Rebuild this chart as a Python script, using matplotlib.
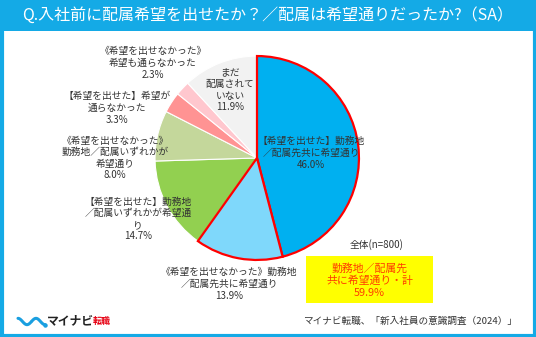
import matplotlib
matplotlib.use("Agg")
import matplotlib.pyplot as plt
from matplotlib.patches import Rectangle
import numpy as np

plt.rcParams['font.family'] = ['Noto Sans CJK JP', 'DejaVu Sans']

title = "Q.入社前に配属希望を出せたか？／配属は希望通りだったか?（SA）"
categories = [
    "【希望を出せた】勤務地\n／配属先共に希望通り",
    "《希望を出せなかった》勤務地\n／配属先共に希望通り",
    "【希望を出せた】勤務地\n／配属いずれかが希望通\nり",
    "《希望を出せなかった》\n勤務地／配属いずれかが\n希望通り",
    "【希望を出せた】希望が\n通らなかった",
    "《希望を出せなかった》\n希望も通らなかった",
    "まだ\n配属されて\nいない",
]
values = [46.0, 13.9, 14.7, 8.0, 3.3, 2.3, 11.9]
colors = ["#00b0f0", "#7fd8fb", "#92d050", "#c4d79b", "#ff9393", "#ffc7ce", "#f2f2f2"]
highlight = [True, True, False, False, False, False, False]
sample_label = "全体(n=800)"
summary_label = "勤務地／配属先\n共に希望通り・計"
source = "マイナビ転職、「新入社員の意識調査（2024）」"

W, H = 536, 337
fig = plt.figure(figsize=(W / 100, H / 100), dpi=100)
fig.patch.set_facecolor("white")

# pie axes: center (257,158), radius 104 px
cx, cy, r = 257, 158, 104
pax = fig.add_axes([(cx - r) / W, (H - cy - r) / H, 2 * r / W, 2 * r / H])
wedges, _ = pax.pie(values, colors=colors, startangle=90, counterclock=False,
                    wedgeprops=dict(edgecolor="white", linewidth=0.8))
for w, hl in zip(wedges, highlight):
    if hl:
        w.set_edgecolor("#ff0000")
        w.set_linewidth(1.6)
        w.set_zorder(3)
pax.set_xlim(-1.02, 1.02)
pax.set_ylim(-1.02, 1.02)
pax.set_aspect("equal")
pax.axis("off")

# overlay axes in pixel coordinates (origin top-left), drawn above the pie
ov = fig.add_axes([0, 0, 1, 1])
ov.set_zorder(10)
ov.patch.set_alpha(0)
ov.set_xlim(0, W)
ov.set_ylim(H, 0)
ov.axis("off")

frame_blue = "#14aae6"
# outer frame and title bar
ov.add_patch(Rectangle((1.5, 1.5), W - 3, H - 3, fill=False, edgecolor=frame_blue, lw=3, zorder=1))
ov.add_patch(Rectangle((0, 0), W, 31, facecolor=frame_blue, edgecolor="none", zorder=1))
ov.text(W / 2, 15.5, title, color="white", fontsize=11.5, ha="center", va="center", zorder=5)

# slice labels (pixel positions)
label_pos = [(311, 153), (229, 284), (138, 219), (115, 158), (117, 108), (153, 63), (230, 90)]
for cat, val, (x, y) in zip(categories, values, label_pos):
    ov.text(x, y, f"{cat}\n{val:.1f}%", fontsize=7, ha="center", va="center",
            color="#333333", linespacing=1.2, zorder=6)

# total box
total = sum(v for v, hl in zip(values, highlight) if hl)
ov.text(377, 245, sample_label, fontsize=7, ha="center", va="center", color="#333333", zorder=6)
ov.add_patch(Rectangle((306, 256), 127, 47, facecolor="#ffff00", edgecolor="none", zorder=4))
ov.text(369.5, 280.5, f"{summary_label}\n{total:.1f}%", fontsize=7.8, ha="center", va="center",
        color="#ff3c00", linespacing=1.25, zorder=6)

# source
ov.text(410, 321, source, fontsize=6.9, ha="center", va="center", color="#333333", zorder=6)

# brand mark
t = np.linspace(0, 1, 60)
wx = 18 + 27 * t
wy = 321 - 3.5 * np.sin(2 * np.pi * 1.5 * t + np.pi / 2) * 0.9
ov.plot(wx[:30], wy[:30] + 0.5, color="#1a9fe0", lw=2.2, solid_capstyle="round", zorder=6)
ov.plot(wx[30:], wy[30:] + 0.5, color="#1a9fe0", lw=2.2, solid_capstyle="round", zorder=6)
ov.plot([44.5], [324.5], marker="o", ms=2.2, color="#1a9fe0", zorder=6)
ov.text(47, 320.5, "マイナビ", fontsize=8.5, fontweight="bold", ha="left", va="center", color="#222222", zorder=6)
ov.text(93, 321.5, "転職", fontsize=6.5, fontweight="bold", ha="left", va="center", color="#e60012", zorder=6)

fig.savefig("out.png", dpi=100, facecolor="white")
